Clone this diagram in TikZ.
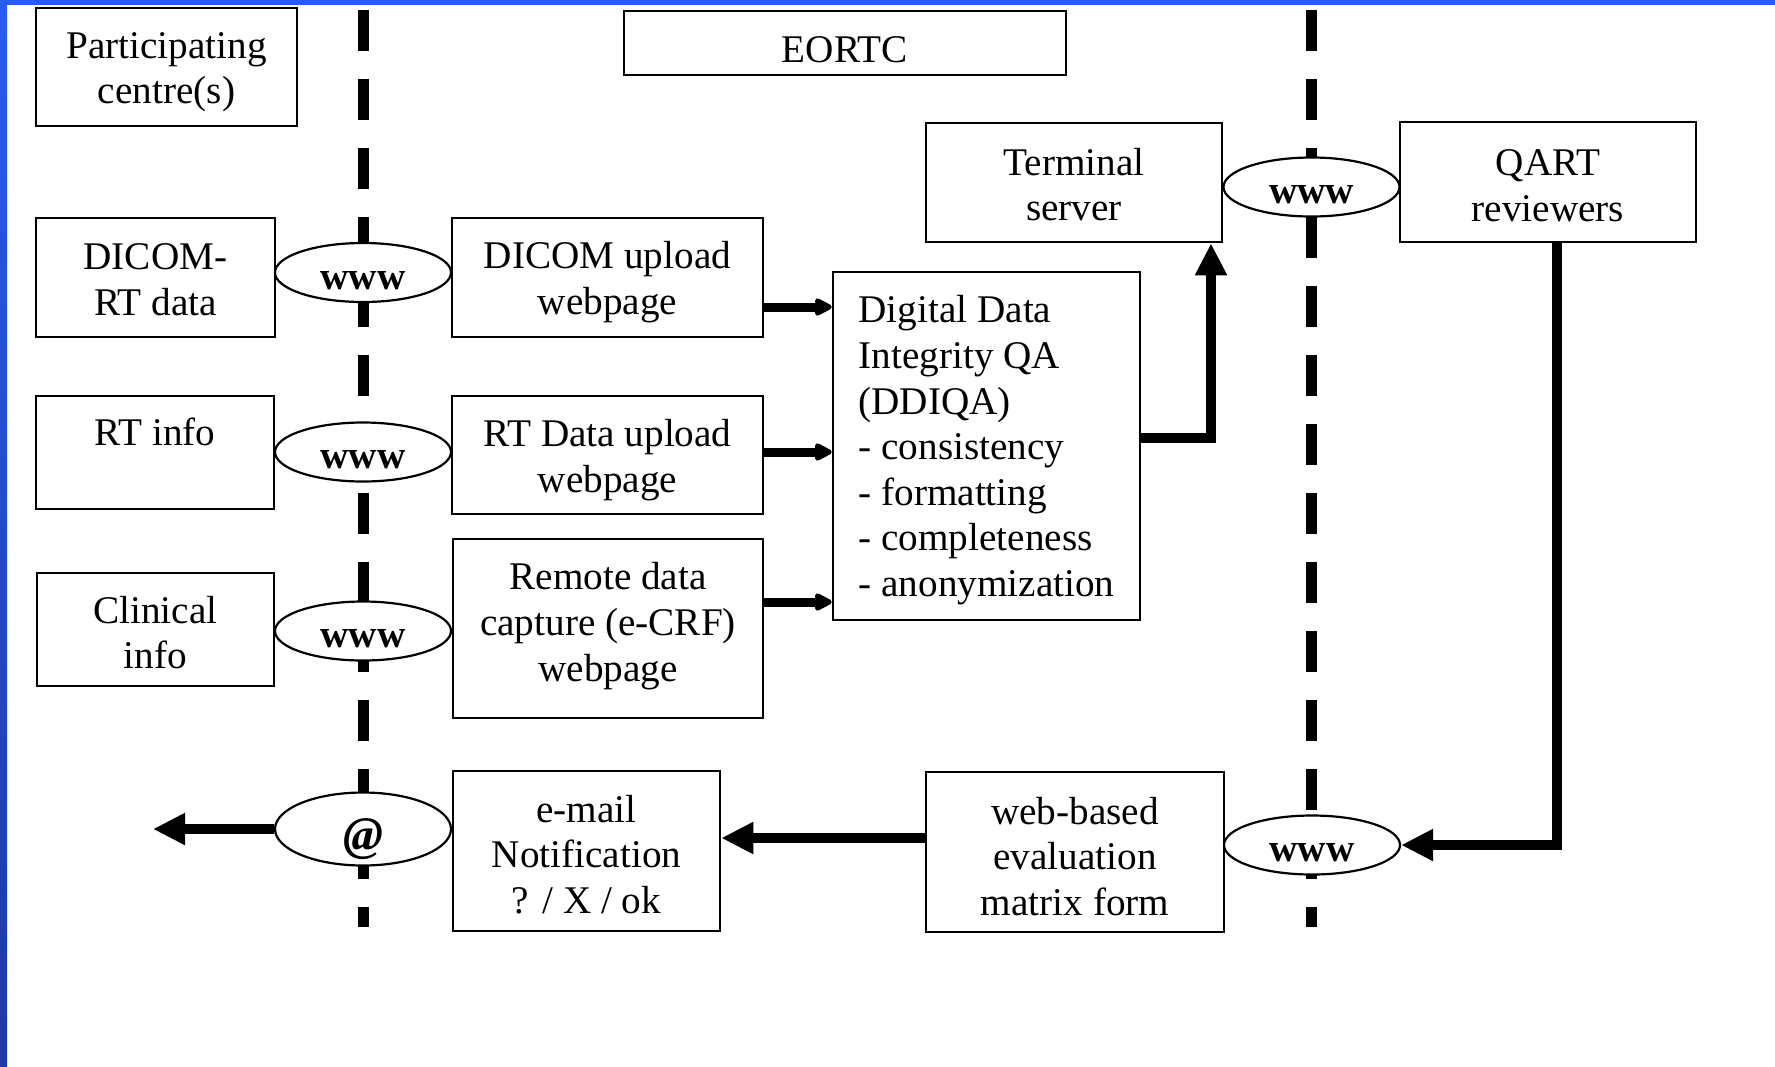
\documentclass[tikz,border=0pt]{standalone}
\usepackage{fontspec}
\setmainfont{Liberation Serif}
\usetikzlibrary{arrows.meta,shapes.geometric}
\definecolor{bluebar}{RGB}{40,92,240}
\definecolor{bluedark}{RGB}{28,58,168}
\newcommand\dn[1]{\rule{0pt}{#1}}
\begin{document}
\begin{tikzpicture}[x=0.5pt,y=-0.5pt,
  box/.style={draw, line width=1.3pt, inner sep=0pt, align=center, font=\fontsize{19.6}{22.8}\selectfont},
  www/.style={ellipse, draw, fill=white, line width=1.1pt, inner sep=0pt, minimum width=88pt, minimum height=29.5pt, text height=16.5pt, text depth=0pt, font=\fontsize{19.6}{22.8}\selectfont\bfseries},
  sepline/.style={line width=5.5pt, dash pattern=on 20.5pt off 14pt},
  barrow/.style={line width=5pt, -{Triangle[width=15pt,length=16pt]}},
  sarrow/.style={line width=4.5pt, -{Triangle[width=9.5pt,length=10pt,round]}}
]
\useasboundingbox (0,0) rectangle (1775,1066);
\fill[bluebar] (0,0) rectangle (1775,5);
\shade[top color=bluebar, bottom color=bluedark] (0,0) rectangle (7,1066);

% separator lines
\coordinate (d1t) at (363,10);
\coordinate (d1b) at (363,927);
\coordinate (d2t) at (1311,10);
\coordinate (d2b) at (1311,927);
\draw[sepline] (d1t) -- (d1b);
\draw[sepline] (d2t) -- (d2b);

% boxes
\node[box, minimum width=130.5pt, minimum height=59pt] (part) at (166.5,67) {\dn{18pt}Participating\\centre(s)};
\node[box, text height=19.8pt, minimum width=221pt, minimum height=32pt] (eortc) at (845,43) {EORTC};
\node[box, minimum width=119.5pt, minimum height=59.5pt] (dicom) at (155.5,277.5) {\dn{15pt}DICOM-\\RT data};
\node[box, minimum width=155.5pt, minimum height=59.5pt] (dicomup) at (607.5,277.5) {\dn{18.5pt}DICOM upload\\webpage};
\node[box, minimum width=119pt, minimum height=56.5pt] (rtinfo) at (155,452.5) {\dn{15.5pt}RT info\\\mbox{}};
\node[box, minimum width=155.5pt, minimum height=59pt] (rtup) at (607.5,455) {\dn{18.5pt}RT Data upload\\webpage};
\node[box, minimum width=118.5pt, minimum height=56.5pt] (clin) at (155.5,629.5) {\dn{16.8pt}Clinical\\info};
\node[box, minimum width=155pt, minimum height=89.5pt] (remote) at (608,628.5) {Remote data\\capture (e-CRF)\\webpage\rule[-6.6pt]{0pt}{0pt}};
\node[box, minimum width=153.5pt, minimum height=174pt, align=left] (ddiqa) at (986.5,446) {\dn{18pt}Digital Data\\Integrity QA\\(DDIQA)\\- consistency\\- formatting\\- completeness\\- anonymization};
\node[box, minimum width=148pt, minimum height=59.5pt] (term) at (1074,182.5) {\dn{15.5pt}Terminal\\server};
\node[box, minimum width=148pt, minimum height=60pt] (qart) at (1548,182) {\dn{16.5pt}QART\\reviewers};
\node[box, minimum width=149pt, minimum height=80pt] (web) at (1075,852) {\dn{18pt}web-based\\evaluation\\matrix form};
\node[box, minimum width=133.5pt, minimum height=80pt] (email) at (586.5,851) {\dn{17pt}e-mail\\Notification\\? / X / ok};

% www ellipses
\node[www] (w1) at (363,272.5) {www};
\node[www] (w2) at (363,452) {www};
\node[www] (w3) at (363,631) {www};
\node[www] (wT) at (1311.5,187) {www};
\node[www] (wB) at (1312,845) {www};
\node[www, minimum height=36.5pt, text height=21pt, text depth=0pt, font=\fontsize{24}{28}\selectfont\bfseries\itshape] (at) at (363,829) {@};

% arrows
\coordinate (a1) at ([yshift=-14.75pt]dicomup.east);
\draw[sarrow] (a1) -- (a1 -| ddiqa.west);
\coordinate (a2) at ([yshift=1.5pt]rtup.east);
\draw[sarrow] (a2) -- (a2 -| ddiqa.west);
\coordinate (a3) at ([yshift=13.25pt]remote.east);
\draw[sarrow] (a3) -- (a3 -| ddiqa.west);
\coordinate (b1) at ([yshift=4pt]ddiqa.east);
\coordinate (b2) at ([xshift=68.5pt]term.south);
\draw[barrow] (b1) -| (b2);
\coordinate (q1) at ([xshift=4.5pt]qart.south);
\draw[barrow] (q1) |- (wB.east);
\coordinate (c1) at ([yshift=7pt]web.west);
\draw[barrow] (c1) -- (c1 -| email.east);
\coordinate (out) at (153,829);
\draw[barrow] (at.west) -- (out);
\end{tikzpicture}
\end{document}
